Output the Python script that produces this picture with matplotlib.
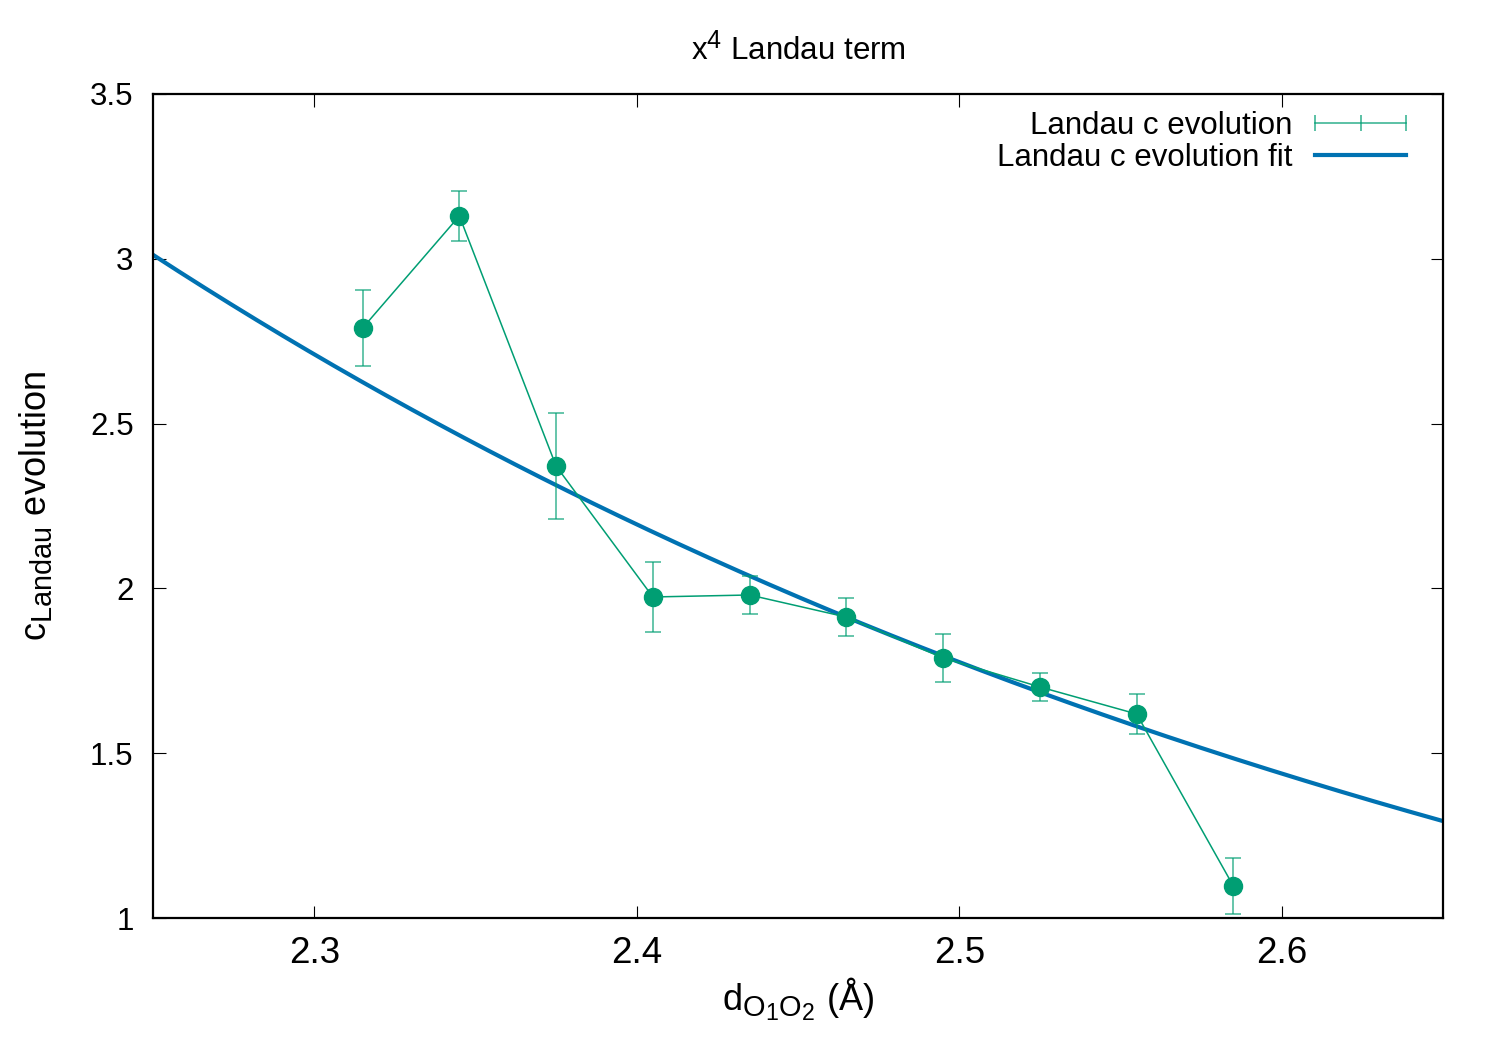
"""
x^4 Landau term: c coefficient vs O1-O2 distance, with exponential fit
"""

import numpy as np
import matplotlib
matplotlib.use("Agg")
from matplotlib import pyplot as plt
from matplotlib.lines import Line2D
import matplotlib._mathtext as mathtext_internals

# gnuplot uses bigger sub/superscripts than mathtext
mathtext_internals.SHRINK_FACTOR = 0.8

# Data
d_o1o2 = [2.315, 2.345, 2.375, 2.405, 2.435, 2.465, 2.495, 2.525, 2.555, 2.585]
c_landau = [2.790, 3.130, 2.371, 1.974, 1.980, 1.913, 1.789, 1.701, 1.619, 1.097]
c_err = [0.115, 0.076, 0.160, 0.106, 0.057, 0.058, 0.073, 0.043, 0.062, 0.085]

# Fit parameters, c(d) = fit_a * exp(-fit_b * (d - fit_d0))
fit_a = 3.012
fit_b = 2.112
fit_d0 = 2.25

x_ticks = [2.3, 2.4, 2.5, 2.6]
y_ticks = [1, 1.5, 2, 2.5, 3, 3.5]
y_tick_labels = ["1", "1.5", "2", "2.5", "3", "3.5"]

green = "#009e73"
blue = "#0072b2"

plt.rcParams["font.family"] = ["Liberation Sans", "DejaVu Sans"]
plt.rcParams["mathtext.fontset"] = "custom"
plt.rcParams["mathtext.rm"] = "Liberation Sans"
plt.rcParams["mathtext.it"] = "Liberation Sans:italic"

fig = plt.figure(figsize=(15, 10.5), dpi=100)
ax = fig.add_axes([0.102, 0.1257, 0.86, 0.7848])

# Fit curve
xs = np.linspace(2.25, 2.65, 300)
ax.plot(xs, fit_a * np.exp(-fit_b * (xs - fit_d0)), color=blue, lw=3, zorder=2)

# Data with error bars
ax.errorbar(d_o1o2, c_landau, yerr=c_err, fmt="none", ecolor=green, alpha=0.7,
            elinewidth=1.2, capsize=6, capthick=1.2, zorder=3)
ax.plot(d_o1o2, c_landau, color=green, lw=1.1, marker="o", markersize=13, zorder=4)

ax.set_xlim(2.25, 2.65)
ax.set_ylim(1, 3.5)
ax.set_xticks(x_ticks)
ax.set_xticklabels([f"{t:.1f}" for t in x_ticks])
ax.set_yticks(y_ticks)
ax.set_yticklabels(y_tick_labels)
ax.tick_params(axis="both", direction="in", length=9, width=0.8,
               top=True, right=True)
ax.tick_params(axis="x", labelsize=26.5, pad=13)
ax.tick_params(axis="y", labelsize=22.5, pad=14)
for s in ax.spines.values():
    s.set_linewidth(1.6)

ax.set_title(r"$\mathrm{x}^{4}$ Landau term", fontsize=22.5, pad=24)
ax.set_xlabel(r"$\mathrm{d}_{\mathrm{O_1O_2}}$ (Å)", fontsize=26, labelpad=3)
ax.set_ylabel(r"$\mathrm{c}_{\mathrm{Landau}}$ evolution", fontsize=26, labelpad=26)

# Legend like gnuplot's key
handles = [
    Line2D([], [], color=green, lw=1.2, alpha=0.75, marker="|", markersize=12,
           markeredgewidth=1.2),
    Line2D([], [], color=blue, lw=3),
]
labels = ["Landau c evolution", "Landau c evolution fit"]
ax.legend(handles, labels, loc="upper right", frameon=False, fontsize=22.5,
          markerfirst=False, numpoints=3, handlelength=3.5, handletextpad=0.45,
          labelspacing=0.05, borderaxespad=0.15, bbox_to_anchor=(0.992, 1.0))

plt.savefig("out.png", dpi=100)
plt.close()
